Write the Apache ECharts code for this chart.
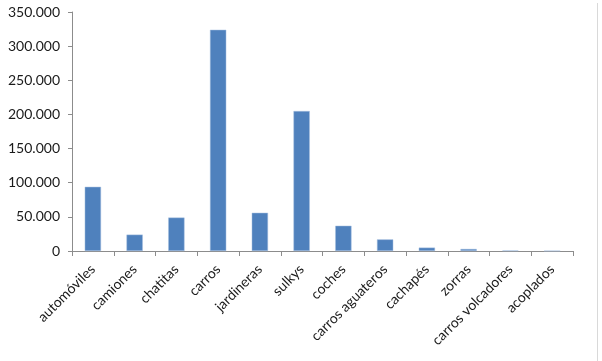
<!DOCTYPE html>
<html><head><meta charset="utf-8">
<script src="https://cdn.jsdelivr.net/npm/echarts@6/dist/echarts.min.js"></script>
<style>html,body{margin:0;padding:0;background:#fff}#c{width:602px;height:361px}</style>
</head><body><div id="c"></div>
<script>
const categories = ['automóviles','camiones','chatitas','carros','jardineras','sulkys','coches','carros aguateros','cachapés','zorras','carros volcadores','acoplados'];
const values = [94000,24000,49000,324000,56000,205000,37000,17000,5000,3000,800,200];
const yMin = 0, yMax = 350000, yStep = 50000;

function fmt(v){ return String(v).replace(/\B(?=(\d{3})+(?!\d))/g,'.'); }

const chart = echarts.init(document.getElementById('c'), null, {renderer:'canvas'});
chart.setOption({
  animation:false,
  textStyle:{fontFamily:'Lato, "Open Sans", sans-serif'},
  grid:{left:72,right:29,top:12,bottom:110,containLabel:false},
  xAxis:{type:'category',data:categories,
    axisLine:{lineStyle:{color:'#8c8c8c',width:1}},
    axisTick:{show:true,alignWithLabel:false,length:5,lineStyle:{color:'#8c8c8c'}},
    axisLabel:{rotate:45,interval:0,color:'#1a1a1a',fontSize:14,margin:16,fontFamily:'Lato, "Open Sans", sans-serif'}
  },
  yAxis:{type:'value',min:yMin,max:yMax,interval:yStep,
    axisLine:{show:true,lineStyle:{color:'#8c8c8c',width:1}},
    axisTick:{show:true,length:4,lineStyle:{color:'#8c8c8c'}},
    splitLine:{show:false},
    axisLabel:{formatter:fmt,color:'#1a1a1a',fontSize:14,margin:12,fontFamily:'Lato, "Open Sans", sans-serif'}
  },
  series:[{type:'bar',data:values,barWidth:'39%',
    itemStyle:{color:'#4f81bd',borderColor:'#a9c1e0',borderWidth:0.5}}],
  graphic:[{type:'line',shape:{x1:597.5,y1:3,x2:597.5,y2:361},style:{stroke:'#d9d9d9',lineWidth:1}}]
});
</script></body></html>
